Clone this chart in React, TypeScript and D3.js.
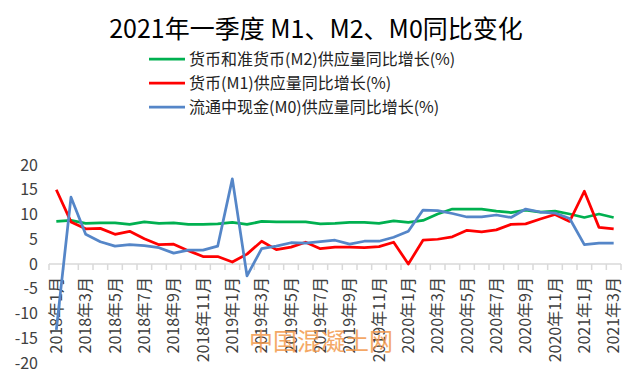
import React from 'react'
import * as d3 from 'd3'

const months = [
  '2018年1月', '2018年2月', '2018年3月', '2018年4月', '2018年5月', '2018年6月',
  '2018年7月', '2018年8月', '2018年9月', '2018年10月', '2018年11月', '2018年12月',
  '2019年1月', '2019年2月', '2019年3月', '2019年4月', '2019年5月', '2019年6月',
  '2019年7月', '2019年8月', '2019年9月', '2019年10月', '2019年11月', '2019年12月',
  '2020年1月', '2020年2月', '2020年3月', '2020年4月', '2020年5月', '2020年6月',
  '2020年7月', '2020年8月', '2020年9月', '2020年10月', '2020年11月', '2020年12月',
  '2021年1月', '2021年2月', '2021年3月',
]

const m2 = [
  8.6, 8.8, 8.2, 8.3, 8.3, 8.0, 8.5, 8.2, 8.3, 8.0, 8.0, 8.1,
  8.4, 8.0, 8.6, 8.5, 8.5, 8.5, 8.1, 8.2, 8.4, 8.4, 8.2, 8.7,
  8.4, 8.8, 10.1, 11.1, 11.1, 11.1, 10.7, 10.4, 10.9, 10.5, 10.7, 10.1,
  9.4, 10.1, 9.4,
]

const m1 = [
  15.0, 8.5, 7.1, 7.2, 6.0, 6.6, 5.1, 3.9, 4.0, 2.7, 1.5, 1.5,
  0.4, 2.0, 4.6, 2.9, 3.4, 4.4, 3.1, 3.4, 3.4, 3.3, 3.5, 4.4,
  0.0, 4.8, 5.0, 5.5, 6.8, 6.5, 6.9, 8.0, 8.1, 9.1, 10.0, 8.6,
  14.7, 7.4, 7.1,
]

const m0 = [
  -13.3, 13.5, 6.0, 4.5, 3.6, 3.9, 3.7, 3.3, 2.2, 2.8, 2.8, 3.6,
  17.2, -2.4, 3.1, 3.6, 4.3, 4.2, 4.5, 4.8, 4.0, 4.6, 4.6, 5.4,
  6.6, 10.9, 10.8, 10.2, 9.5, 9.5, 9.9, 9.4, 11.1, 10.5, 10.3, 9.2,
  3.9, 4.2, 4.2,
]

const yTicks = [20, 15, 10, 5, 0, -5, -10, -15, -20]

const series = [
  { name: '货币和准货币(M2)供应量同比增长(%)', values: m2, color: '#00B050' },
  { name: '货币(M1)供应量同比增长(%)', values: m1, color: '#FF0000' },
  { name: '流通中现金(M0)供应量同比增长(%)', values: m0, color: '#5586C8' },
]

const W = 640
const H = 384
const font = '"Noto Sans CJK SC", "Noto Sans", sans-serif'

export default function App() {
  const x = d3.scaleBand<string>().domain(months).range([49, 621])
  const y = d3.scaleLinear().domain([-20, 20]).range([363, 165])
  const cx = (m: string) => (x(m) ?? 0) + x.bandwidth() / 2

  const line = d3
    .line<number>()
    .x((_, i) => cx(months[i]))
    .y((d) => y(d))

  const boundaries = d3.range(months.length + 1).map((i) => 49 + i * x.bandwidth())

  return (
    <div style={{ position: 'fixed', left: 0, top: 0 }}>
      <svg width={W} height={H} style={{ display: 'block', background: '#fff' }} fontFamily={font}>
        {/* title */}
        <text x={316} y={38} textAnchor="middle" fontSize={25} fill="#000">
          2021年一季度 M1、M2、M0同比变化
        </text>

        {/* legend */}
        {series.map((s, i) => (
          <g key={s.name} transform={`translate(0,${59 + i * 24})`}>
            <line x1={149} x2={185} y1={0} y2={0} stroke={s.color} strokeWidth={2.75} />
            <text x={189} y={0} dy="0.35em" fontSize={16} fill="#222">
              {s.name}
            </text>
          </g>
        ))}

        {/* y tick labels */}
        {yTicks.map((t) => (
          <text key={t} x={38} y={y(t)} dy="0.35em" textAnchor="end" fontSize={16} fill="#404040">
            {t}
          </text>
        ))}

        {/* x axis at zero */}
        <line x1={49} x2={621} y1={y(0)} y2={y(0)} stroke="#D9D9D9" strokeWidth={1.5} />
        {boundaries.map((bx, i) => (
          <line key={i} x1={bx} x2={bx} y1={y(0)} y2={y(0) + 6} stroke="#D9D9D9" strokeWidth={1.5} />
        ))}

        {/* x labels, every second month */}
        {months.map((m, i) =>
          i % 2 === 0 ? (
            <text
              key={m}
              transform={`translate(${cx(m)},277) rotate(-90)`}
              dy="0.35em"
              textAnchor="end"
              fontSize={16}
              fill="#404040"
            >
              {m}
            </text>
          ) : null
        )}

        {/* watermark */}
        <text x={321} y={342} dy="0.35em" textAnchor="middle" fontSize={24} fill="#F39A4C" opacity={0.85}>
          中国混凝土网
        </text>

        {/* series lines */}
        {series.map((s) => (
          <path
            key={s.name}
            d={line(s.values) ?? ''}
            fill="none"
            stroke={s.color}
            strokeWidth={2.75}
            strokeLinejoin="round"
          />
        ))}
      </svg>
    </div>
  )
}
